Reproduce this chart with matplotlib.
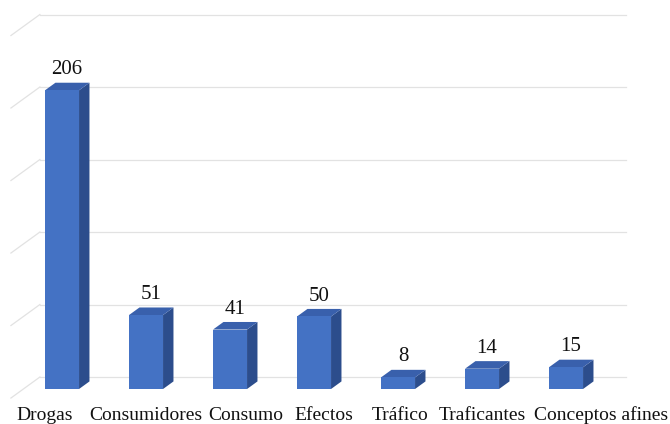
import matplotlib.pyplot as plt
from matplotlib.patches import Polygon

categories = ['Drogas', 'Consumidores', 'Consumo', 'Efectos', 'Tráfico',
              'Traficantes', 'Conceptos afines']
values = [206, 51, 41, 50, 8, 14, 15]
grid_values = [0, 50, 100, 150, 200, 250]

# layout of the fake 3d box (category units / value units)
DX, DY = 0.345, 14.5          # shift for full floor depth
bar_d0, bar_d1 = 0.43, 0.79   # front / back of the bars in depth fraction
bar_w = 0.405
wall_left, wall_right = -0.46, 6.52
label_shift = [-0.06, 0.15, 0.34, 0.27, 0.17, 0.15, 0.56]

front_col = '#4472C4'
side_col = '#2C4D8C'
top_col = '#3960AC'
grid_col = '#E2E2E2'

plt.rcParams['font.family'] = ['Liberation Serif', 'DejaVu Serif']


def proj(x, v, d):
    return x + d * DX, v + d * DY


fig = plt.figure(figsize=(6.7, 4.24), dpi=100)
ax = fig.add_axes([0, 0, 1, 1])
ax.set_xlim(-0.59, 7.386)
ax.set_ylim(-17.9, 274.5)
ax.axis('off')

# walls: back gridlines and side diagonals
for g in grid_values:
    p0 = proj(wall_left, g, 1)
    p1 = proj(wall_right, g, 1)
    p2 = proj(wall_left, g, 0)
    ax.plot([p0[0], p1[0]], [p0[1], p1[1]], color=grid_col, lw=0.9, zorder=1)
    ax.plot([p2[0], p0[0]], [p2[1], p0[1]], color=grid_col, lw=0.9, zorder=1)

for i, (cat, v) in enumerate(zip(categories, values)):
    xl, xr = i - bar_w / 2, i + bar_w / 2
    f = [proj(xl, 0, bar_d0), proj(xr, 0, bar_d0), proj(xr, v, bar_d0), proj(xl, v, bar_d0)]
    s = [proj(xr, 0, bar_d0), proj(xr, 0, bar_d1), proj(xr, v, bar_d1), proj(xr, v, bar_d0)]
    t = [proj(xl, v, bar_d0), proj(xr, v, bar_d0), proj(xr, v, bar_d1), proj(xl, v, bar_d1)]
    ax.add_patch(Polygon(s, closed=True, fc=side_col, ec='none', zorder=3))
    ax.add_patch(Polygon(t, closed=True, fc=top_col, ec='none', zorder=3))
    ax.add_patch(Polygon(f, closed=True, fc=front_col, ec='none', zorder=4))

    lx, _ = proj(i, v, 0.6)
    _, ly = proj(i, v, bar_d1)
    ax.annotate(str(v), (lx, ly), xytext=(0, 6), textcoords='offset points',
                ha='center', va='baseline', fontsize=15, color='#111111', zorder=5)

    tx, _ = proj(i + label_shift[i], 0, 0)
    ax.text(tx, -15.2, cat, ha='center', va='baseline', fontsize=14, color='#111111')

fig.savefig('out.png', dpi=100)
